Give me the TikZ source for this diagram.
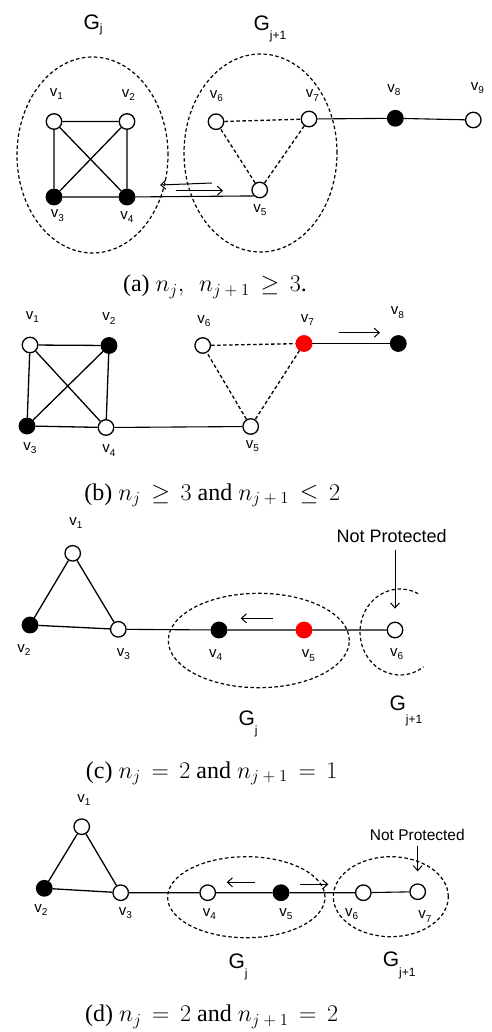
\RequirePackage{fix-cm}
\documentclass[tikz,border=0pt]{standalone}
\usepackage{fontspec}
\setmainfont{Liberation Serif}
\newfontfamily\labfont{Liberation Sans}
\usetikzlibrary{arrows.meta}

\newcommand{\vx}[1]{v\raisebox{-3.5pt}{\fontsize{10}{10}\selectfont #1}}
\newcommand{\gx}[2]{G\raisebox{-#2pt}{\fontsize{12}{12}\selectfont #1}}
\newcommand{\nxt}{n_{j\mkern4mu+\mkern4mu1}}
\thickmuskip=8mu plus 5mu\relax

\begin{document}
\begin{tikzpicture}[x=1pt, y=-1pt,
  vert/.style={circle, draw, line width=1.3pt, inner sep=0pt, minimum size=15.5pt, fill=#1},
  vert/.default={white},
  redvert/.style={circle, draw=red, fill=red, line width=1.3pt, inner sep=0pt, minimum size=15.5pt},
  edge/.style={line width=1.3pt},
  link/.style={line width=1.1pt},
  dedge/.style={line width=1.3pt, dash pattern=on 3.5pt off 2.5pt},
  ring/.style={line width=1.2pt, dash pattern=on 3.5pt off 2.5pt},
  lab/.style={inner sep=0pt, font=\labfont\fontsize{15}{15}\selectfont},
  glab/.style={inner sep=0pt, anchor=base west, font=\labfont\fontsize{21}{21}\selectfont},
  note/.style={inner sep=0pt, font=\labfont\fontsize{#1}{#1}\selectfont},
  subcap/.style={inner sep=0pt, anchor=base, font=\fontsize{24}{28}\selectfont},
  move/.style={line width=1pt, -{Straight Barb[length=5pt,width=9pt]}}]
\useasboundingbox (0,0) rectangle (491,1032);

% (a)
\draw[ring] (92.5,155) ellipse [x radius=75.5pt, y radius=98pt];
\draw[ring] (260.5,153) ellipse [x radius=76.5pt, y radius=99pt];
\node[glab] (gja) at (83.3,30) {\gx{j}{2.5}};
\node[glab] (gka) at (253.3,30.5) {\gx{j+1}{9}};
\node[vert] (a1) at (54,121.5) {};
\node[vert] (a2) at (127,121.5) {};
\node[vert=black] (a3) at (54,197) {};
\node[vert=black] (a4) at (127,197) {};
\node[vert] (a5) at (259.7,190) {};
\node[vert] (a6) at (216,121.7) {};
\node[vert] (a7) at (309,119) {};
\node[vert=black] (a8) at (395.3,118.3) {};
\node[vert] (a9) at (473.3,120) {};
\node[lab] (la1) at (56.5,94) {\vx{1}};
\node[lab] (la2) at (128.3,95) {\vx{2}};
\node[lab] (la3) at (57.5,215.5) {\vx{3}};
\node[lab] (la4) at (127,217) {\vx{4}};
\node[lab] (la5) at (260,210) {\vx{5}};
\node[lab] (la6) at (216.5,96) {\vx{6}};
\node[lab] (la7) at (312.5,95.5) {\vx{7}};
\node[lab] (la8) at (394,90) {\vx{8}};
\node[lab] (la9) at (477.5,88) {\vx{9}};
\draw[edge] (a1) -- (a2) -- (a4) -- (a3) -- (a1) -- (a4) (a2) -- (a3);
\draw[link] (a4) -- (a5.225);
\draw[dedge] (a6) -- (a7) -- (a5) -- (a6);
\draw[link] (a7) -- (a8) -- (a9);
\coordinate (ma1) at (212,183);
\coordinate (ma2) at (160,185);
\coordinate (ma3) at (175.7,190.7);
\coordinate (ma4) at (223,190.7);
\draw[move] (ma1) -- (ma2);
\draw[move] (ma3) -- (ma4);
\node[subcap] (capa) at (215,291.5) {(a) $n_j,\; \nxt \geq 3$.};

% (b)
\node[vert] (b1) at (30,345) {};
\node[vert=black] (b2) at (109,345.5) {};
\node[vert=black] (b3) at (27,426) {};
\node[vert] (b4) at (106,427.5) {};
\node[vert] (b5) at (250.7,426.5) {};
\node[vert] (b6) at (202.7,345.5) {};
\node[redvert] (b7) at (304,343.5) {};
\node[vert=black] (b8) at (398.3,343.5) {};
\node[lab] (lb1) at (32.5,317) {\vx{1}};
\node[lab] (lb2) at (109,318.5) {\vx{2}};
\node[lab] (lb3) at (30,448) {\vx{3}};
\node[lab] (lb4) at (109,450.5) {\vx{4}};
\node[lab] (lb5) at (252.5,446) {\vx{5}};
\node[lab] (lb6) at (204,321) {\vx{6}};
\node[lab] (lb7) at (307.5,320) {\vx{7}};
\node[lab] (lb8) at (397.5,312.5) {\vx{8}};
\draw[edge] (b1) -- (b2) -- (b4) -- (b3) -- (b1) -- (b4) (b2) -- (b3);
\draw[link] (b4) -- (b5);
\draw[dedge] (b6) -- (b7) -- (b5) -- (b6);
\draw[link] (b7) -- (b8);
\coordinate (mb1) at (339,332.7);
\coordinate (mb2) at (380,332.7);
\draw[move] (mb1) -- (mb2);
\node[subcap] (capb) at (212.3,500) {(b) $n_j \geq 3$ and $\nxt \leq 2$};

% (c)
\draw[ring] (258.8,640.5) ellipse [x radius=90.5pt, y radius=47.2pt];
\draw[ring] (418.2,593.7) arc [start angle=63, end angle=306, x radius=40pt, y radius=43pt];
\node[glab] (gjc) at (238.3,725) {\gx{j}{9}};
\node[glab] (gkc) at (389.3,710) {\gx{j+1}{13}};
\node[vert] (c1) at (72.7,553.3) {};
\node[vert=black] (c2) at (30,625) {};
\node[vert] (c3) at (118.3,629.3) {};
\node[vert=black] (c4) at (219,630) {};
\node[redvert] (c5) at (304,630) {};
\node[vert] (c6) at (395,630) {};
\node[lab] (lc1) at (76,523) {\vx{1}};
\node[lab] (lc2) at (24,650) {\vx{2}};
\node[lab] (lc3) at (123.3,654) {\vx{3}};
\node[lab] (lc4) at (215.7,655) {\vx{4}};
\node[lab] (lc5) at (308.3,655.5) {\vx{5}};
\node[lab] (lc6) at (396.7,654) {\vx{6}};
\draw[edge] (c1) -- (c2) -- (c3) -- (c1);
\draw[link] (c3) -- (c4) -- (c5) -- (c6);
\coordinate (mc1) at (272.7,618.3);
\coordinate (mc2) at (240.7,618.3);
\draw[move] (mc1) -- (mc2);
\node[note=18] (npc) at (391.7,536) {Not Protected};
\draw[move] ([yshift=-7pt]npc.south -| c6) -- ([yshift=13pt]c6.north);
\node[subcap] (capc) at (211.7,778.3) {(c) $n_j = 2$ and $\nxt = 1$};

% (d)
\draw[ring] (246.3,897.2) ellipse [x radius=78.7pt, y radius=40.5pt];
\draw[ring] (390.8,896.7) ellipse [x radius=57.5pt, y radius=40pt];
\node[glab] (gjd) at (228.3,968) {\gx{j}{9}};
\node[glab] (gkd) at (382.7,966.7) {\gx{j+1}{10}};
\node[vert] (d1) at (81.7,826.7) {};
\node[vert=black] (d2) at (44.3,888.3) {};
\node[vert] (d3) at (120.7,892.7) {};
\node[vert] (d4) at (207.7,892.7) {};
\node[vert=black] (d5) at (281,892.7) {};
\node[vert] (d6) at (363.3,892.7) {};
\node[vert] (d7) at (417.7,891.7) {};
\node[lab] (ld1) at (84,800) {\vx{1}};
\node[lab] (ld2) at (41,910) {\vx{2}};
\node[lab] (ld3) at (125.5,913) {\vx{3}};
\node[lab] (ld4) at (209.3,914) {\vx{4}};
\node[lab] (ld5) at (286,914) {\vx{5}};
\node[lab] (ld6) at (351.7,914) {\vx{6}};
\node[lab] (ld7) at (425,916.7) {\vx{7}};
\draw[edge] (d1) -- (d2) -- (d3) -- (d1);
\draw[link] (d3) -- (d4) -- (d5) -- (d6) -- (d7);
\coordinate (md1) at (255,882.3);
\coordinate (md2) at (226.7,882.3);
\coordinate (md3) at (300,884.3);
\coordinate (md4) at (328.3,884.3);
\draw[move] (md1) -- (md2);
\draw[move] (md3) -- (md4);
\node[note=15.5] (npd) at (417.3,835) {Not Protected};
\draw[move] ([yshift=-5pt]npd.south -| d7) -- ([yshift=12pt]d7.north);
\node[subcap] (capd) at (211.7,1021.7) {(d) $n_j = 2$ and $\nxt = 2$};
\end{tikzpicture}
\end{document}
